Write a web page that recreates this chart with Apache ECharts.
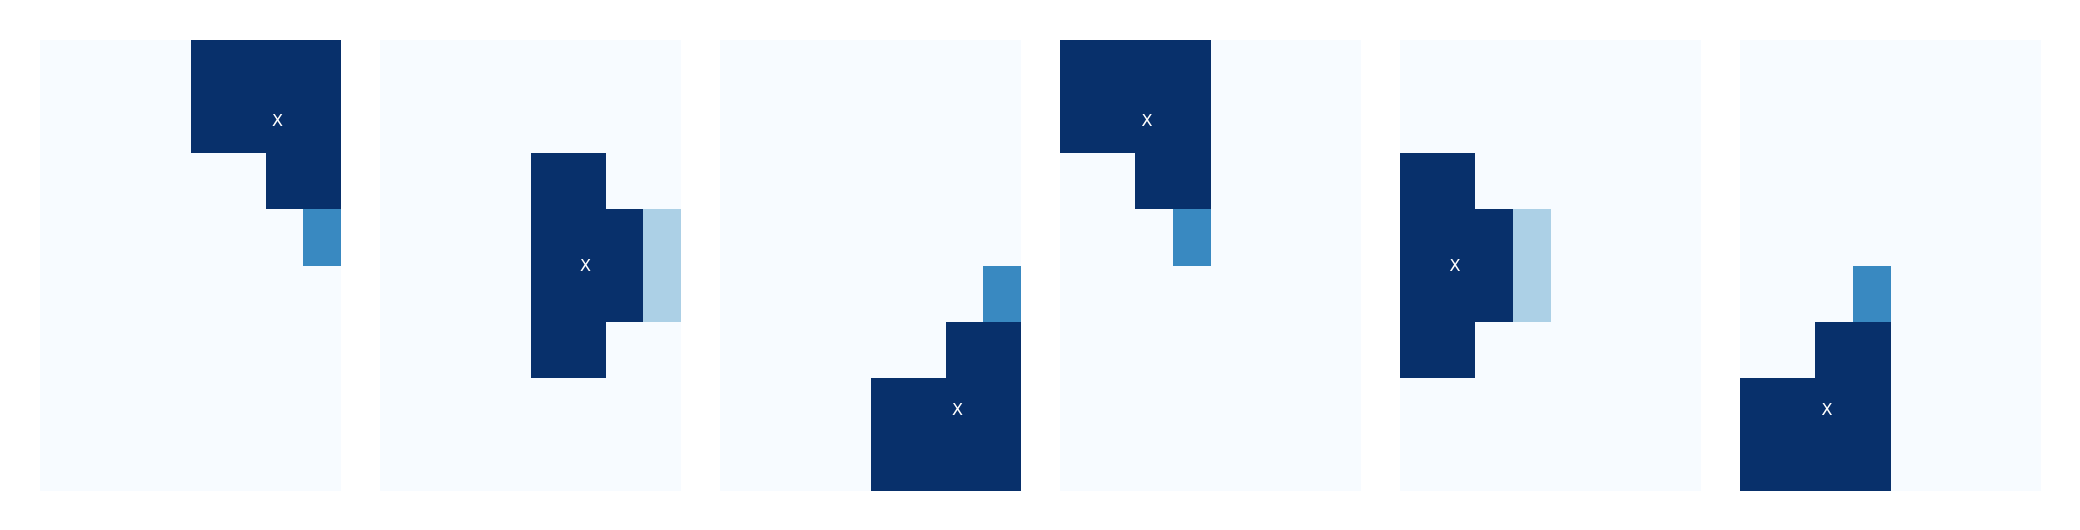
<!DOCTYPE html>
<html>
<head>
<meta charset="utf-8">
<script src="https://cdn.jsdelivr.net/npm/echarts@6/dist/echarts.min.js"></script>
<style>
  html, body { margin: 0; padding: 0; background: #fff; }
  #main { width: 2080px; height: 530px; }
</style>
</head>
<body>
<div id="main"></div>
<script>
// 每个面板 8x8 网格，0 = 空，1 = 深色，0.66 / 0.33 = 中间色
const panel1 = [
  [0, 0, 0, 0, 1, 1, 1, 1],
  [0, 0, 0, 0, 1, 1, 1, 1],
  [0, 0, 0, 0, 0, 0, 1, 1],
  [0, 0, 0, 0, 0, 0, 0, 0.66],
  [0, 0, 0, 0, 0, 0, 0, 0],
  [0, 0, 0, 0, 0, 0, 0, 0],
  [0, 0, 0, 0, 0, 0, 0, 0],
  [0, 0, 0, 0, 0, 0, 0, 0],
]
const panel2 = [
  [0, 0, 0, 0, 0, 0, 0, 0],
  [0, 0, 0, 0, 0, 0, 0, 0],
  [0, 0, 0, 0, 1, 1, 0, 0],
  [0, 0, 0, 0, 1, 1, 1, 0.33],
  [0, 0, 0, 0, 1, 1, 1, 0.33],
  [0, 0, 0, 0, 1, 1, 0, 0],
  [0, 0, 0, 0, 0, 0, 0, 0],
  [0, 0, 0, 0, 0, 0, 0, 0],
]
const panel3 = [
  [0, 0, 0, 0, 0, 0, 0, 0],
  [0, 0, 0, 0, 0, 0, 0, 0],
  [0, 0, 0, 0, 0, 0, 0, 0],
  [0, 0, 0, 0, 0, 0, 0, 0],
  [0, 0, 0, 0, 0, 0, 0, 0.66],
  [0, 0, 0, 0, 0, 0, 1, 1],
  [0, 0, 0, 0, 1, 1, 1, 1],
  [0, 0, 0, 0, 1, 1, 1, 1],
]
const panel4 = [
  [1, 1, 1, 1, 0, 0, 0, 0],
  [1, 1, 1, 1, 0, 0, 0, 0],
  [0, 0, 1, 1, 0, 0, 0, 0],
  [0, 0, 0, 0.66, 0, 0, 0, 0],
  [0, 0, 0, 0, 0, 0, 0, 0],
  [0, 0, 0, 0, 0, 0, 0, 0],
  [0, 0, 0, 0, 0, 0, 0, 0],
  [0, 0, 0, 0, 0, 0, 0, 0],
]
const panel5 = [
  [0, 0, 0, 0, 0, 0, 0, 0],
  [0, 0, 0, 0, 0, 0, 0, 0],
  [1, 1, 0, 0, 0, 0, 0, 0],
  [1, 1, 1, 0.33, 0, 0, 0, 0],
  [1, 1, 1, 0.33, 0, 0, 0, 0],
  [1, 1, 0, 0, 0, 0, 0, 0],
  [0, 0, 0, 0, 0, 0, 0, 0],
  [0, 0, 0, 0, 0, 0, 0, 0],
]
const panel6 = [
  [0, 0, 0, 0, 0, 0, 0, 0],
  [0, 0, 0, 0, 0, 0, 0, 0],
  [0, 0, 0, 0, 0, 0, 0, 0],
  [0, 0, 0, 0, 0, 0, 0, 0],
  [0, 0, 0, 0.66, 0, 0, 0, 0],
  [0, 0, 1, 1, 0, 0, 0, 0],
  [1, 1, 1, 1, 0, 0, 0, 0],
  [1, 1, 1, 1, 0, 0, 0, 0],
]
// X 标记位置（网格单位，从左上角算起）
const markX = [6.31, 5.46, 6.31, 2.31, 1.46, 2.31]
const markY = [1.45, 4.03, 6.57, 1.45, 4.03, 6.57]

const panels = [panel1, panel2, panel3, panel4, panel5, panel6]
const cells = ['0', '1', '2', '3', '4', '5', '6', '7']

// 自定义格子：边缘取整到像素，相邻格子共用同一条边，没有细缝
function renderCell(params, api) {
  const c = api.coord([api.value(0), api.value(1)])
  const s = api.size([1, 1])
  const color = api.visual('color')
  const x0 = Math.round(c[0] - s[0] / 2)
  const x1 = Math.round(c[0] + s[0] / 2)
  const y0 = Math.round(c[1] - s[1] / 2)
  const y1 = Math.round(c[1] + s[1] / 2)
  return {
    type: 'rect',
    shape: { x: x0, y: y0, width: x1 - x0, height: y1 - y0 },
    style: { fill: color },
  }
}

// X 标记：直接画文字
function renderMark(params, api) {
  const p = api.coord([api.value(0), api.value(1)])
  return {
    type: 'text',
    x: p[0],
    y: p[1],
    style: {
      text: 'X',
      fill: '#ffffff',
      fontSize: 16,
      fontFamily: 'DejaVu Sans',
      align: 'center',
      verticalAlign: 'middle',
    },
  }
}

const grid = []
const xAxis = []
const yAxis = []
const series = []
const cellIdx = []

panels.forEach(function (p, i) {
  grid.push({ left: 40 + 340 * i, top: 40, width: 301, height: 451 })
  // 格子用类目轴
  xAxis.push({ type: 'category', data: cells, gridIndex: i, show: false })
  yAxis.push({ type: 'category', data: cells, gridIndex: i, show: false, inverse: true })
  const data = []
  p.forEach(function (row, r) {
    row.forEach(function (v, c) {
      data.push([c, r, v])
    })
  })
  cellIdx.push(series.length)
  series.push({
    type: 'custom',
    xAxisIndex: i * 2,
    yAxisIndex: i * 2,
    renderItem: renderCell,
    encode: { x: 0, y: 1 },
    data: data,
    silent: true,
  })
  // X 标记用数值轴
  xAxis.push({ type: 'value', min: 0, max: 8, gridIndex: i, show: false })
  yAxis.push({ type: 'value', min: 0, max: 8, gridIndex: i, show: false, inverse: true })
  series.push({
    type: 'custom',
    xAxisIndex: i * 2 + 1,
    yAxisIndex: i * 2 + 1,
    renderItem: renderMark,
    encode: { x: 0, y: 1 },
    data: [[markX[i], markY[i]]],
    silent: true,
    z: 5,
  })
})

const option = {
  animation: false,
  backgroundColor: '#ffffff',
  grid: grid,
  xAxis: xAxis,
  yAxis: yAxis,
  visualMap: {
    type: 'continuous',
    show: false,
    min: 0,
    max: 1,
    dimension: 2,
    seriesIndex: cellIdx,
    inRange: {
      // Blues 色带
      color: ['#f7fbff', '#deebf7', '#c6dbef', '#9ecae1', '#6baed6', '#4292c6', '#2171b5', '#08519c', '#08306b'],
    },
  },
  series: series,
}
echarts.init(document.getElementById('main')).setOption(option)
</script>
</body>
</html>
